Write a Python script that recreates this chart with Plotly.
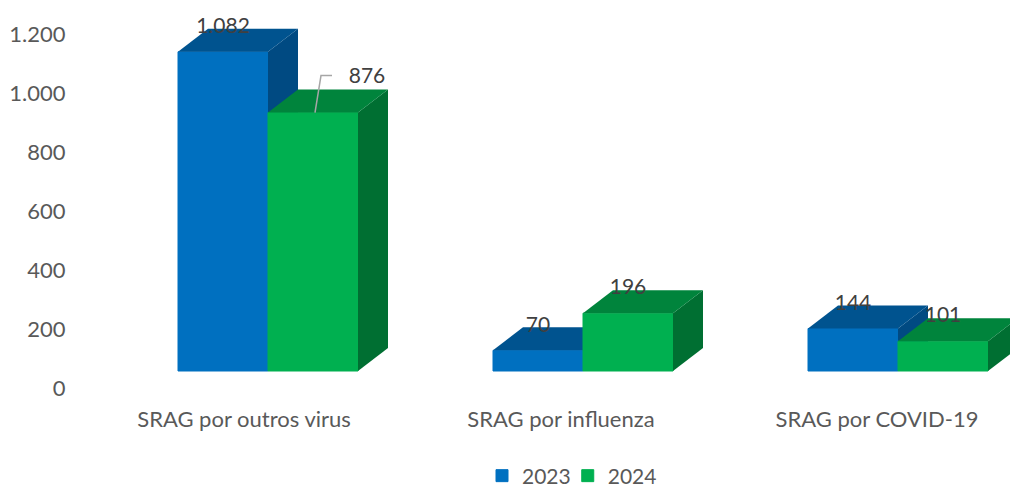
import plotly.graph_objects as go

categories = ["SRAG por outros virus", "SRAG por influenza", "SRAG por COVID-19"]
years = ["2023", "2024"]
values_2023 = [1082, 70, 144]
values_2024 = [876, 196, 101]
y_ticks = [0, 200, 400, 600, 800, 1000, 1200]

PX_PER_CAT = 315.0
PX_PER_UNIT = 59 / 200
CENTER0 = 268
L, R, T, AXIS_Y = 72, 1010, 10, 388
FONT = "Lato"
FS = 22


def xu(px):
    return px / PX_PER_CAT


def yu(px):
    return px / PX_PER_UNIT


BAR_W = xu(90)
DEPTH_X = xu(30)
DEPTH_Y = yu(23)
FLOOR = yu(17)
x_range = [xu(L - CENTER0), xu(R - CENTER0)]
y_range = [0, yu(AXIS_Y - T)]
cat_x = list(range(len(categories)))
label_x = [xu(244 - 268), 1 + xu(561 - 583), 2 + xu(877 - 898)]


def fmt(v):
    return f"{v:,}".replace(",", ".")


fig = go.Figure()


def add_series(name, values, shift, front, top_c, side_c, xa, ya):
    xs = [i + shift for i in cat_x]
    fig.add_trace(go.Bar(x=xs, y=values, base=[FLOOR] * len(values), width=BAR_W, name=name,
                         marker=dict(color=front, line=dict(width=1, color=front)), xaxis=xa, yaxis=ya,
                         hoverinfo="skip"))
    for cx, v in zip(xs, values):
        x0, x1 = cx - BAR_W / 2, cx + BAR_W / 2
        h = FLOOR + v
        fig.add_trace(go.Scatter(
            x=[x1, x1 + DEPTH_X, x1 + DEPTH_X, x1, x1],
            y=[FLOOR, FLOOR + DEPTH_Y, h + DEPTH_Y, h, FLOOR],
            mode="lines", fill="toself", fillcolor=side_c, line=dict(width=0),
            showlegend=False, hoverinfo="skip", xaxis=xa, yaxis=ya))
        fig.add_trace(go.Scatter(
            x=[x0, x1, x1 + DEPTH_X, x0 + DEPTH_X, x0],
            y=[h, h, h + DEPTH_Y, h + DEPTH_Y, h],
            mode="lines", fill="toself", fillcolor=top_c, line=dict(width=0),
            showlegend=False, hoverinfo="skip", xaxis=xa, yaxis=ya))


add_series(years[0], values_2023, -BAR_W / 2, "#0070C0", "#00538F", "#004A82", "x", "y")
add_series(years[1], values_2024, BAR_W / 2, "#00B050", "#00843C", "#006F32", "x2", "y2")

# data labels
lx, ly, lt = [], [], []
for vals, shift in ((values_2023, -BAR_W / 2), (values_2024, BAR_W / 2)):
    for i, v in enumerate(vals):
        px_dx, px_dy = 0, 24
        if v == 876:  # label moved away with a leader line
            px_dx, px_dy = 54, 35
            top_y = FLOOR + v
            cx = i + shift
            fig.add_trace(go.Scatter(
                x=[cx + xu(2), cx + xu(8), cx + xu(19)],
                y=[top_y, top_y + yu(37), top_y + yu(37)],
                mode="lines", line=dict(color="#A6A6A6", width=1.5),
                showlegend=False, hoverinfo="skip", xaxis="x2", yaxis="y2"))
        lx.append(i + shift + xu(px_dx))
        ly.append(FLOOR + v + yu(px_dy))
        lt.append(fmt(v))
fig.add_trace(go.Scatter(x=lx, y=ly, text=lt, mode="text", textposition="middle center",
                         textfont=dict(family=FONT, size=21, color="#404040"),
                         showlegend=False, hoverinfo="skip", xaxis="x2", yaxis="y2", cliponaxis=False))

fig.update_layout(
    width=1010, height=484, autosize=False,
    margin=dict(l=L, r=1010 - R, t=T, b=484 - AXIS_Y, pad=0),
    paper_bgcolor="white", plot_bgcolor="white",
    barmode="overlay", separators=",.",
    font=dict(family=FONT, size=FS, color="#595959"),
    showlegend=True,
    legend=dict(orientation="h", xref="container", yref="container",
                x=490 / 1010, xanchor="left", y=8 / 484, yanchor="middle",
                font=dict(family=FONT, size=21, color="#595959"), traceorder="normal",
                indentation=-8, bgcolor="rgba(0,0,0,0)"),
    xaxis=dict(range=x_range, tickmode="array", tickvals=label_x, ticktext=categories,
               ticks="outside", ticklen=12, tickcolor="rgba(0,0,0,0)", showgrid=False,
               zeroline=False, showline=False, fixedrange=True),
    yaxis=dict(range=y_range, tickmode="array", tickvals=y_ticks, tickformat=",d",
               showgrid=False, zeroline=False, showline=False, ticks="outside", ticklen=1,
               tickcolor="rgba(0,0,0,0)", fixedrange=True),
    xaxis2=dict(range=x_range, overlaying="x", visible=False, fixedrange=True),
    yaxis2=dict(range=y_range, overlaying="y", visible=False, fixedrange=True),
)

fig.write_html("out.html", config={"displayModeBar": False},
               post_script="document.body.style.margin='0';document.documentElement.style.overflow='hidden';")
